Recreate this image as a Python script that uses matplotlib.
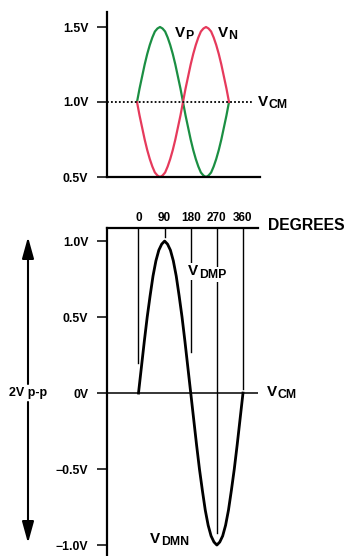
import matplotlib
matplotlib.use('Agg')
import matplotlib.pyplot as plt
from matplotlib.patches import FancyArrowPatch

plt.rcParams['font.family'] = ['Liberation Sans', 'DejaVu Sans']
plt.rcParams['font.weight'] = 'bold'

# phase in degrees, 10 degree steps
deg = list(range(0, 370, 10))
# differential signal (V)
vd = [0.00, 0.17, 0.34, 0.50, 0.64, 0.77, 0.87, 0.94, 0.98, 1.00,
      0.98, 0.94, 0.87, 0.77, 0.64, 0.50, 0.34, 0.17, 0.00,
      -0.17, -0.34, -0.50, -0.64, -0.77, -0.87, -0.94, -0.98, -1.00,
      -0.98, -0.94, -0.87, -0.77, -0.64, -0.50, -0.34, -0.17, 0.00]
# single ended signals on the upper plot (V)
vp = [1.00, 1.09, 1.17, 1.25, 1.32, 1.38, 1.43, 1.47, 1.49, 1.50,
      1.49, 1.47, 1.43, 1.38, 1.32, 1.25, 1.17, 1.09, 1.00,
      0.91, 0.83, 0.75, 0.68, 0.62, 0.57, 0.53, 0.51, 0.50,
      0.51, 0.53, 0.57, 0.62, 0.68, 0.75, 0.83, 0.91, 1.00]
vn = [1.00, 0.91, 0.83, 0.75, 0.68, 0.62, 0.57, 0.53, 0.51, 0.50,
      0.51, 0.53, 0.57, 0.62, 0.68, 0.75, 0.83, 0.91, 1.00,
      1.09, 1.17, 1.25, 1.32, 1.38, 1.43, 1.47, 1.49, 1.50,
      1.49, 1.47, 1.43, 1.38, 1.32, 1.25, 1.17, 1.09, 1.00]
vcm = 1.0

top_ticks = [0.5, 1.0, 1.5]
top_labels = ['0.5V', '1.0V', '1.5V']
bot_ticks = [-1.0, -0.5, 0.0, 0.5, 1.0]
bot_labels = ['\u22121.0V', '\u22120.5V', '0V', '0.5V', '1.0V']
deg_marks = [0, 90, 180, 270, 360]
deg_line_ends = [0.20, 1.03, 0.27, -0.92, 0.03]

green = '#1b8f43'
red = '#e63a5c'

W, H = 347, 556
fig = plt.figure(figsize=(W / 100, H / 100), dpi=100)

def px_axes(x0, y0, x1, y1):
    return fig.add_axes([x0 / W, 1 - y1 / H, (x1 - x0) / W, (y1 - y0) / H])

def vlabel(ax, x, y, sub, bg=False):
    # "V" with a subscript, drawn as two texts
    kw = dict(facecolor='white', edgecolor='none', pad=1) if bg else None
    t = ax.text(x, y, 'V', fontsize=11, fontweight='bold', ha='left', va='center',
                clip_on=False, bbox=kw)
    ax.annotate(sub, xy=(1, 0), xycoords=t, xytext=(0.3, -1.5), textcoords='offset points',
                fontsize=8.8, fontweight='bold', ha='left', va='bottom',
                bbox=kw, annotation_clip=False)

# ---- upper plot ----
ax1 = px_axes(107, 12, 260, 177)
ax1.plot(deg, vp, color=green, lw=1.6)
ax1.plot(deg, vn, color=red, lw=1.6)
ax1.axhline(vcm, xmax=0.954, color='black', lw=1.3, ls=(0, (1, 1.2)))
ax1.set_xlim(-117.4, 481.3)
ax1.set_ylim(0.5, 1.6)
ax1.spines[['top', 'right']].set_visible(False)
ax1.spines[['left', 'bottom']].set_linewidth(1.6)
ax1.set_xticks([])
ax1.set_yticks(top_ticks)
ax1.set_yticklabels(top_labels, fontsize=8.8, fontweight='bold')
ax1.tick_params(axis='y', length=7.5, width=1.1, pad=6)
vlabel(ax1, 148, 1.46, 'P')
vlabel(ax1, 317, 1.46, 'N')
vlabel(ax1, 473, 1.0, 'CM')

# ---- lower plot ----
ax2 = px_axes(107, 228, 258, 556)
ax2.plot(deg, vd, color='black', lw=2.0)
ax2.axhline(0, color='black', lw=1.1)
for d, e in zip(deg_marks, deg_line_ends):
    ax2.plot([d, d], [1.086, e], color='black', lw=1.0)
ax2.set_xlim(-108.5, 411.7)
ax2.set_ylim(-1.072, 1.086)
ax2.spines[['bottom', 'right']].set_visible(False)
ax2.spines[['left', 'top']].set_linewidth(1.6)
ax2.xaxis.tick_top()
ax2.set_xticks(deg_marks)
ax2.set_xticklabels([str(d) for d in deg_marks], fontsize=8.5, fontweight='bold')
ax2.tick_params(axis='x', length=0, pad=3)
ax2.set_yticks(bot_ticks)
ax2.set_yticklabels(bot_labels, fontsize=8.8, fontweight='bold')
ax2.tick_params(axis='y', length=7.5, width=1.1, pad=6)
ax2.text(446, 1.105, 'DEGREES', fontsize=11.3, fontweight='bold', ha='left', va='center', clip_on=False)
vlabel(ax2, 171, 0.80, 'DMP', bg=True)
vlabel(ax2, 40, -0.96, 'DMN')
vlabel(ax2, 443, 0.01, 'CM')

# 2V p-p double arrow
fig.text(28 / W, 1 - 393 / H, '2V p-p', fontsize=9, fontweight='bold', ha='center', va='center')
arrow = dict(arrowstyle='-|>,head_length=0.65,head_width=0.18', color='black', lw=1.5,
             shrinkA=0, shrinkB=0, mutation_scale=20, transform=None)
fig.add_artist(FancyArrowPatch((28, H - 384), (28, H - 237), **arrow))
fig.add_artist(FancyArrowPatch((28, H - 402), (28, H - 543), **arrow))

fig.savefig('out.png', dpi=100)
